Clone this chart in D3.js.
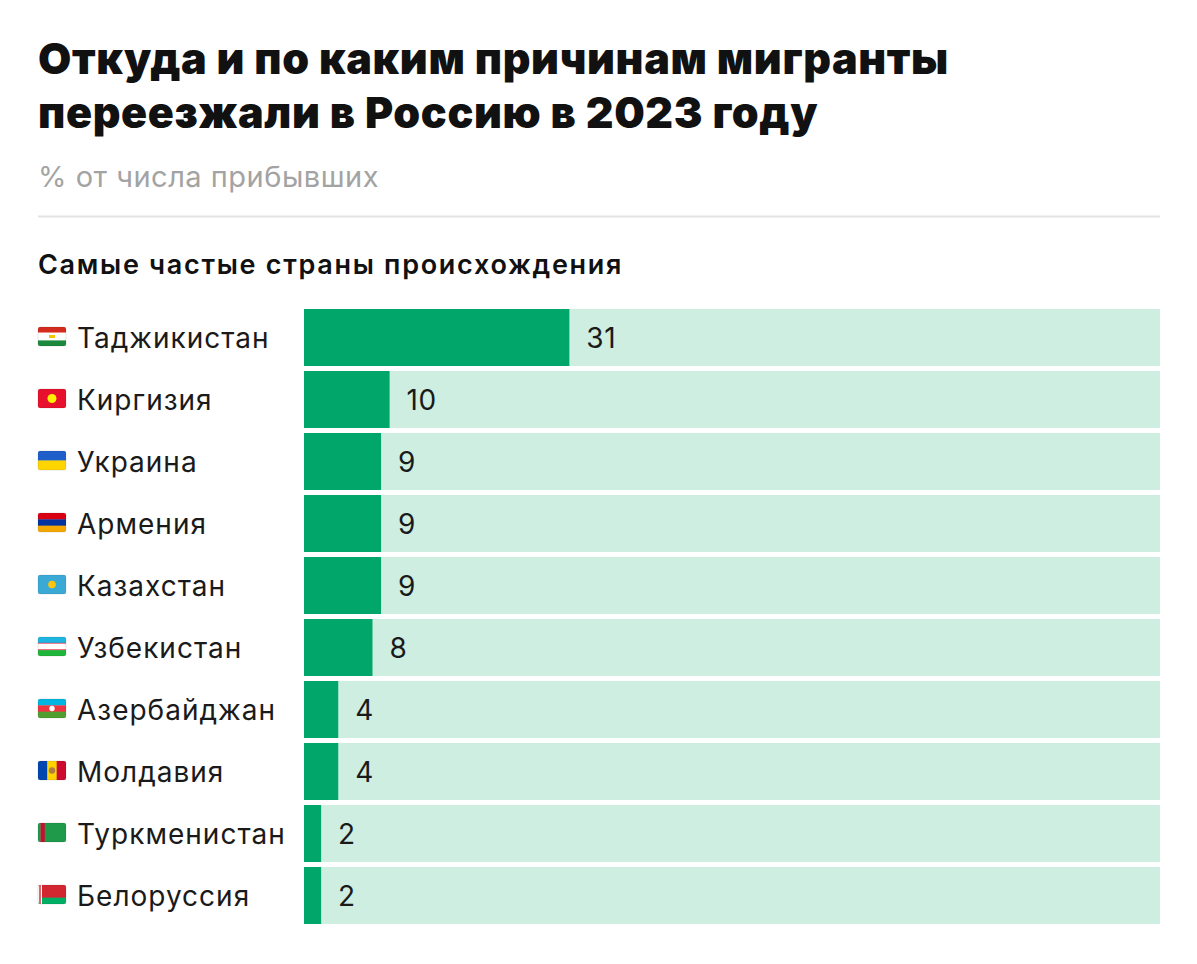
<!DOCTYPE html>
<html><head><meta charset="utf-8">
<script src="https://cdn.jsdelivr.net/npm/d3@7"></script>
<style>
html,body{margin:0;padding:0;background:#fff;}
svg{display:block;font-family:Inter,"Noto Sans",sans-serif;}
</style></head>
<body>
<svg id="c" width="1197" height="964"></svg>
<script>
const titleLines = ["Откуда и по каким причинам мигранты", "переезжали в Россию в 2023 году"];
const subtitle = "% от числа прибывших";
const sectionTitle = "Самые частые страны происхождения";
const countries = ["Таджикистан","Киргизия","Украина","Армения","Казахстан","Узбекистан","Азербайджан","Молдавия","Туркменистан","Белоруссия"];
const values = [31,10,9,9,9,8,4,4,2,2];
const maxValue = 100;
// flag stripes: orientation + colours (decorative icons beside labels)
const flagStripes = [
  {dir:"h", colors:["#d52b1e","#ffffff","#1c8a3c"], w:[1,1.4,1]},
  {dir:"h", colors:["#e8112d"], w:[1]},
  {dir:"h", colors:["#1f5fc9","#ffd500"], w:[1,1]},
  {dir:"h", colors:["#d90012","#0033a0","#f2a800"], w:[1,1,1]},
  {dir:"h", colors:["#3aa9d6"], w:[1]},
  {dir:"h", colors:["#1eb5e0","#e4002b","#ffffff","#e4002b","#1eb53a"], w:[1,0.12,1,0.12,1]},
  {dir:"h", colors:["#00b5e2","#ef3340","#509e2f"], w:[1,1,1]},
  {dir:"v", colors:["#0046ae","#ffd200","#cc092f"], w:[1,1,1]},
  {dir:"v", colors:["#1e9a4a","#c8102e","#1e9a4a"], w:[0.35,0.6,3]},
  {dir:"h", colors:["#d22730","#00af66"], w:[2,1]}
];
const flagEmblems = [
  {color:"#f9d616", r:0},
  {color:"#ffef00", r:4.5},
  {color:null, r:0},
  {color:null, r:0},
  {color:"#fec50c", r:3.8},
  {color:null, r:0},
  {color:"#ffffff", r:2.7},
  {color:"#b07e3b", r:3.2},
  {color:null, r:0},
  {color:null, r:0}
];

const svg = d3.select("#c");
svg.append("rect").attr("width",1197).attr("height",964).attr("fill","#fff");

const title = svg.append("text").attr("x",38).attr("font-weight",900).attr("font-size",43)
  .attr("fill","#111").attr("letter-spacing","0.65");
titleLines.forEach((t,i)=>title.append("tspan").attr("x",38).attr("y",74+i*54).text(t));

svg.append("text").attr("x",38).attr("y",187).attr("font-size",29).attr("fill","#a3a3a3")
  .attr("letter-spacing","0.5").text(subtitle);
svg.append("line").attr("x1",38).attr("x2",1160).attr("y1",216.5).attr("y2",216.5)
  .attr("stroke","#e3e3e3").attr("stroke-width",2);
svg.append("text").attr("x",38).attr("y",274).attr("font-size",27).attr("font-weight",600)
  .attr("fill","#111").attr("letter-spacing","1.7").text(sectionTitle);

const x = d3.scaleLinear().domain([0,maxValue]).range([304,1160]);
const y = d3.scaleBand().domain(countries).range([309,924]).paddingInner(5/62).paddingOuter(0);

const data = countries.map((c,i)=>({c, v:values[i], f:flagStripes[i], e:flagEmblems[i]}));

const rows = svg.append("g").selectAll("g").data(data).join("g");
rows.append("rect").attr("x",x(0)).attr("y",d=>y(d.c)).attr("width",x(maxValue)-x(0))
  .attr("height",y.bandwidth()).attr("fill","#cdeee1");
rows.append("rect").attr("x",x(0)).attr("y",d=>y(d.c)).attr("width",d=>x(d.v)-x(0))
  .attr("height",y.bandwidth()).attr("fill","#00a66a");
rows.append("text").attr("x",d=>x(d.v)+17).attr("y",d=>y(d.c)+y.bandwidth()/2+10)
  .attr("font-size",28).attr("fill","#1a1a1a").attr("letter-spacing","0.5").text(d=>d.v);
rows.append("text").attr("x",77).attr("y",d=>y(d.c)+y.bandwidth()/2+10)
  .attr("font-size",28).attr("fill","#1a1a1a").attr("letter-spacing","1").text(d=>d.c);

// flags
const fw=28, fh=19;
rows.each(function(d){
  const g = d3.select(this).append("g")
    .attr("transform",`translate(38,${y(d.c)+y.bandwidth()/2-fh/2-1})`);
  const clipId = "cl"+countries.indexOf(d.c);
  g.append("clipPath").attr("id",clipId).append("rect").attr("width",fw).attr("height",fh).attr("rx",2);
  const inner = g.append("g").attr("clip-path",`url(#${clipId})`);
  const tot = d3.sum(d.f.w);
  let acc=0;
  d.f.colors.forEach((col,k)=>{
    const share = d.f.w[k]/tot;
    if(d.f.dir==="h"){
      inner.append("rect").attr("x",0).attr("y",acc*fh).attr("width",fw).attr("height",share*fh+0.3).attr("fill",col);
    } else {
      inner.append("rect").attr("x",acc*fw).attr("y",0).attr("width",share*fw+0.3).attr("height",fh).attr("fill",col);
    }
    acc+=share;
  });
  if(d.e.r>0){
    inner.append("circle").attr("cx",fw/2).attr("cy",fh/2).attr("r",d.e.r).attr("fill",d.e.color);
  }
  if(d.c==="Белоруссия"){
    inner.append("rect").attr("x",0).attr("y",0).attr("width",4).attr("height",fh).attr("fill","#fff");
    inner.append("rect").attr("x",1).attr("y",0).attr("width",2).attr("height",fh).attr("fill","#d22730").attr("opacity",0.7);
  }
  if(d.c==="Таджикистан"){
    inner.append("rect").attr("x",fw/2-3).attr("y",fh/2-1.5).attr("width",6).attr("height",3).attr("fill","#f8c300");
  }
  g.append("rect").attr("width",fw).attr("height",fh).attr("rx",2).attr("fill","none")
    .attr("stroke","rgba(0,0,0,0.12)").attr("stroke-width",0.8);
});
</script>
</body></html>
